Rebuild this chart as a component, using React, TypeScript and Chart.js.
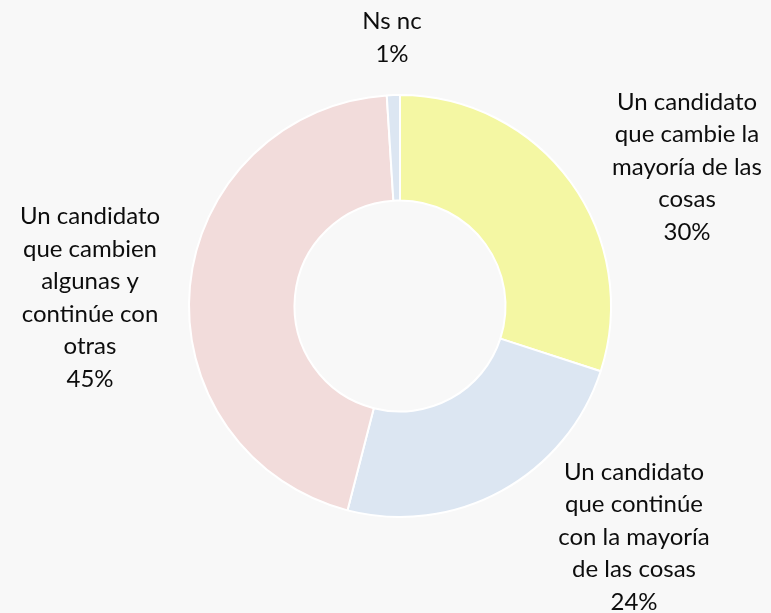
import React, { useEffect, useRef } from "react";
import { Chart, registerables } from "chart.js";

Chart.register(...registerables);

const categories = [
  ["Un candidato", "que cambie la", "mayoría de las", "cosas"],
  ["Un candidato", "que continúe", "con la mayoría", "de las cosas"],
  ["Un candidato", "que cambien", "algunas y", "continúe con", "otras"],
  ["Ns nc"],
];
const values = [30, 24, 45, 1];
const percentLabels = ["30%", "24%", "45%", "1%"];
const colors = ["#f4f7a3", "#dce6f2", "#f2dcdb", "#dce6f2"];
// label block centre offsets from the donut centre (px)
const labelOffsets: [number, number][] = [
  [287, -139],
  [234, 231],
  [-310, -8],
  [-8, -268],
];

const FONT = "Lato, 'Open Sans', sans-serif";

const labelPlugin = {
  id: "outerLabels",
  afterDraw(chart: any) {
    const ctx = chart.ctx;
    const meta = chart.getDatasetMeta(0);
    const arc = meta.data[0];
    const cx = arc.x;
    const cy = arc.y;
    const lh = 32.5;
    ctx.save();
    ctx.fillStyle = "#0d0d0d";
    ctx.font = `24px ${FONT}`;
    ctx.textAlign = "center";
    ctx.textBaseline = "middle";
    categories.forEach((lines, i) => {
      const all = [...lines, percentLabels[i]];
      const [dx, dy] = labelOffsets[i];
      const startY = cy + dy - ((all.length - 1) * lh) / 2;
      all.forEach((t, j) => {
        ctx.fillText(t, cx + dx, startY + j * lh);
      });
    });
    ctx.restore();
  },
};

export default function App() {
  const ref = useRef<HTMLCanvasElement>(null);
  useEffect(() => {
    if (!ref.current) return;
    const chart = new Chart(ref.current, {
      type: "doughnut",
      data: {
        labels: categories.map((c) => c.join(" ")),
        datasets: [
          {
            data: values,
            backgroundColor: colors,
            borderColor: "#ffffff",
            borderWidth: 2,
          },
        ],
      },
      options: {
        animation: false,
        responsive: false,
        maintainAspectRatio: false,
        cutout: "50%",
        layout: { padding: { top: 94, bottom: 95, left: 188, right: 159 } },
        plugins: {
          legend: { display: false },
          tooltip: { enabled: false },
        },
      },
      plugins: [labelPlugin],
    });
    return () => chart.destroy();
  }, []);
  return (
    <div
      style={{
        position: "fixed",
        left: 0,
        top: 0,
        width: 771,
        height: 613,
        background: "#f8f8f8",
      }}
    >
      <canvas ref={ref} width={771} height={613} style={{ display: "block" }} />
    </div>
  );
}
